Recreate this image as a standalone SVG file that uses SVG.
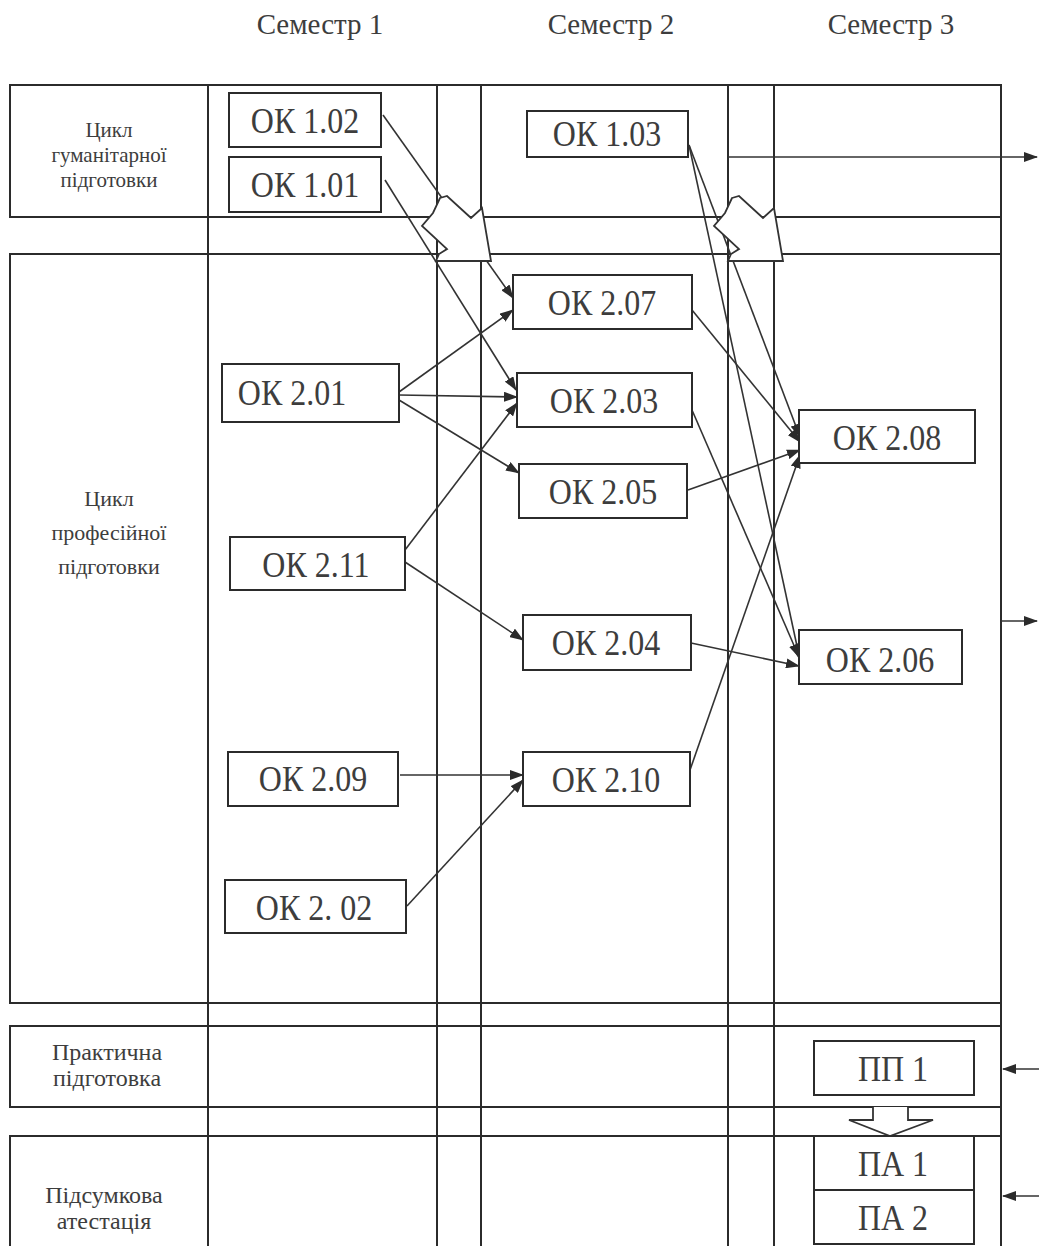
<svg xmlns="http://www.w3.org/2000/svg" width="1039" height="1246" viewBox="0 0 1039 1246">
<defs>
<style>
.grid line{stroke:#2b2b2b;stroke-width:2}
.conn line{stroke:#333;stroke-width:1.6}
.arr{marker-end:url(#ah)}
.box rect{fill:#fff;stroke:#2b2b2b;stroke-width:2}
.bt{font-family:"Liberation Serif","Times New Roman",serif;font-size:32px;fill:#3d3d3d;text-anchor:middle}
.lt{font-family:"Liberation Serif","Times New Roman",serif;font-size:21px;fill:#3d3d3d;text-anchor:middle}
.lm{font-family:"Liberation Serif","Times New Roman",serif;font-size:22px;fill:#3d3d3d;text-anchor:middle}
.lb{font-family:"Liberation Serif","Times New Roman",serif;font-size:24px;fill:#3d3d3d;text-anchor:middle}
.ht{font-family:"Liberation Serif","Times New Roman",serif;font-size:29px;fill:#3d3d3d;text-anchor:middle}
.blk{fill:#fff;stroke:#333;stroke-width:1.8;stroke-linejoin:miter}
</style>
<marker id="ah" viewBox="0 0 14 10" refX="13" refY="5" markerWidth="14" markerHeight="10" markerUnits="userSpaceOnUse" orient="auto">
<path d="M0,0 L14,5 L0,10 z" fill="#2b2b2b"/>
</marker>
</defs>
<rect width="1039" height="1246" fill="#fff"/>

<g id="headers">
<text class="ht" x="320" y="34">Семестр 1</text>
<text class="ht" x="611" y="34">Семестр 2</text>
<text class="ht" x="891" y="34">Семестр 3</text>
</g>

<g id="grid" class="grid">
<line x1="9" y1="85" x2="1002" y2="85"/>
<line x1="9" y1="217" x2="1002" y2="217"/>
<line x1="9" y1="254" x2="1002" y2="254"/>
<line x1="9" y1="1003" x2="1002" y2="1003"/>
<line x1="9" y1="1026" x2="1002" y2="1026"/>
<line x1="9" y1="1107" x2="1002" y2="1107"/>
<line x1="9" y1="1136" x2="1002" y2="1136"/>
<line x1="10" y1="85" x2="10" y2="217"/>
<line x1="10" y1="254" x2="10" y2="1003"/>
<line x1="10" y1="1026" x2="10" y2="1107"/>
<line x1="10" y1="1136" x2="10" y2="1246"/>
<line x1="208" y1="85" x2="208" y2="1246"/>
<line x1="437" y1="85" x2="437" y2="1246"/>
<line x1="481" y1="85" x2="481" y2="1246"/>
<line x1="728" y1="85" x2="728" y2="1246"/>
<line x1="774" y1="85" x2="774" y2="1246"/>
<line x1="1001" y1="85" x2="1001" y2="1246"/>
</g>

<g id="row-labels">
<text class="lt" x="109" y="137">Цикл</text>
<text class="lt" x="109" y="162">гуманітарної</text>
<text class="lt" x="109" y="187">підготовки</text>
<text class="lm" x="109" y="506">Цикл</text>
<text class="lm" x="109" y="540">професійної</text>
<text class="lm" x="109" y="574">підготовки</text>
<text class="lb" x="107" y="1060">Практична</text>
<text class="lb" x="107" y="1086">підготовка</text>
<text class="lb" x="104" y="1203">Підсумкова</text>
<text class="lb" x="104" y="1229">атестація</text>
</g>

<g id="connectors" class="conn">
<line class="arr" x1="383" y1="115" x2="513" y2="298"/>
<line class="arr" x1="385" y1="180" x2="516" y2="390"/>
<line class="arr" x1="399" y1="392" x2="513" y2="310"/>
<line class="arr" x1="399" y1="395" x2="517" y2="397"/>
<line class="arr" x1="399" y1="400" x2="519" y2="473"/>
<line class="arr" x1="405" y1="550" x2="517" y2="403"/>
<line class="arr" x1="405" y1="562" x2="523" y2="640"/>
<line class="arr" x1="400" y1="775" x2="523" y2="775"/>
<line class="arr" x1="407" y1="906" x2="523" y2="780"/>
<line class="arr" x1="689" y1="145" x2="800" y2="437"/>
<line class="arr" x1="689" y1="145" x2="800" y2="660"/>
<line class="arr" x1="692" y1="310" x2="800" y2="442"/>
<line class="arr" x1="692" y1="410" x2="799" y2="657"/>
<line class="arr" x1="688" y1="490" x2="800" y2="450"/>
<line class="arr" x1="691" y1="643" x2="799" y2="666"/>
<line class="arr" x1="690" y1="770" x2="800" y2="455"/>
<line class="arr" x1="728" y1="157" x2="1037" y2="157"/>
<line class="arr" x1="1001" y1="621" x2="1037" y2="621"/>
<line class="arr" x1="1039" y1="1069" x2="1003" y2="1069"/>
<line class="arr" x1="1039" y1="1196" x2="1003" y2="1196"/>
</g>

<g id="block-arrows">
<polygon id="block-arrow-1" class="blk" points="440,198 447,196 471,218 482,208 491,261 436,261 439,254 447,249 422,226 433,213"/>
<polygon id="block-arrow-2" class="blk" points="732,198 739,196 763,218 774,208 783,261 728,261 731,254 739,249 714,226 725,213"/>
<path id="block-arrow-3" class="blk" d="M873,1107 L873,1120 L849,1120 L890,1136 L933,1120 L908,1120 L908,1107"/>
</g>

<g id="ok102" class="box"><rect x="229" y="93" width="152" height="54"/><text class="bt" transform="translate(305,133) scale(1,1.12)">ОК 1.02</text></g>
<g id="ok101" class="box"><rect x="229" y="157" width="152" height="55"/><text class="bt" transform="translate(305,197) scale(1,1.12)">ОК 1.01</text></g>
<g id="ok103" class="box"><rect x="527" y="111" width="161" height="46"/><text class="bt" transform="translate(607,146) scale(1,1.12)">ОК 1.03</text></g>
<g id="ok207" class="box"><rect x="513" y="275" width="179" height="54"/><text class="bt" transform="translate(602,315) scale(1,1.12)">ОК 2.07</text></g>
<g id="ok203" class="box"><rect x="517" y="373" width="175" height="54"/><text class="bt" transform="translate(604,413) scale(1,1.12)">ОК 2.03</text></g>
<g id="ok205" class="box"><rect x="519" y="464" width="168" height="54"/><text class="bt" transform="translate(603,504) scale(1,1.12)">ОК 2.05</text></g>
<g id="ok201" class="box"><rect x="222" y="364" width="177" height="58"/><text class="bt" transform="translate(292,405) scale(1,1.12)">ОК 2.01</text></g>
<g id="ok211" class="box"><rect x="230" y="537" width="175" height="53"/><text class="bt" transform="translate(316,577) scale(1,1.12)">ОК 2.11</text></g>
<g id="ok204" class="box"><rect x="523" y="615" width="168" height="55"/><text class="bt" transform="translate(606,655) scale(1,1.12)">ОК 2.04</text></g>
<g id="ok210" class="box"><rect x="523" y="752" width="167" height="54"/><text class="bt" transform="translate(606,792) scale(1,1.12)">ОК 2.10</text></g>
<g id="ok209" class="box"><rect x="228" y="752" width="170" height="54"/><text class="bt" transform="translate(313,791) scale(1,1.12)">ОК 2.09</text></g>
<g id="ok202" class="box"><rect x="225" y="880" width="181" height="53"/><text class="bt" transform="translate(314,920) scale(1,1.12)">ОК 2. 02</text></g>
<g id="ok208" class="box"><rect x="799" y="410" width="176" height="53"/><text class="bt" transform="translate(887,450) scale(1,1.12)">ОК 2.08</text></g>
<g id="ok206" class="box"><rect x="799" y="630" width="163" height="54"/><text class="bt" transform="translate(880,672) scale(1,1.12)">ОК 2.06</text></g>
<g id="pp1" class="box"><rect x="814" y="1041" width="160" height="54"/><text class="bt" transform="translate(893,1081) scale(1,1.12)">ПП 1</text></g>
<g id="pa1" class="box"><rect x="814" y="1136" width="160" height="54"/><text class="bt" transform="translate(893,1176) scale(1,1.12)">ПА 1</text></g>
<g id="pa2" class="box"><rect x="814" y="1190" width="160" height="54"/><text class="bt" transform="translate(893,1230) scale(1,1.12)">ПА 2</text></g>
</svg>
